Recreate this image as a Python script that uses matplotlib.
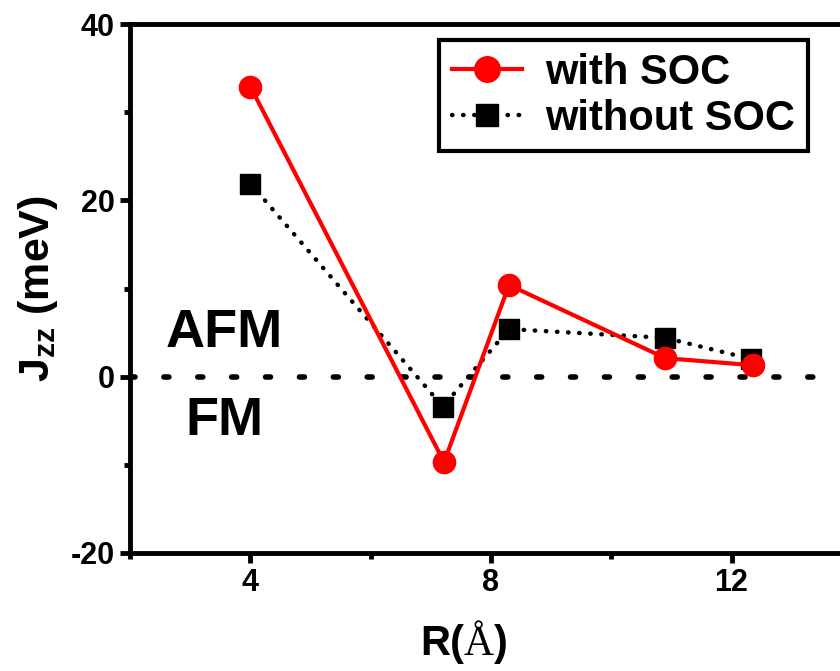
import matplotlib
matplotlib.use("Agg")
import matplotlib.pyplot as plt
from matplotlib.offsetbox import TextArea, HPacker, AnchoredOffsetbox

plt.rcParams['font.family'] = ['Liberation Sans', 'DejaVu Sans']
plt.rcParams['font.weight'] = 'bold'
plt.rcParams['mathtext.fontset'] = 'custom'
plt.rcParams['mathtext.bf'] = 'Liberation Sans:bold'
plt.rcParams['mathtext.rm'] = 'Liberation Sans:bold'
plt.rcParams['axes.unicode_minus'] = False

# distances R (Angstrom) and exchange Jzz (meV)
r_soc = [4.0, 7.22, 8.3, 10.9, 12.35]
j_soc = [32.9, -9.7, 10.4, 2.1, 1.3]
r_nosoc = [4.0, 7.2, 8.3, 10.9, 12.33]
j_nosoc = [21.9, -3.4, 5.4, 4.4, 2.0]

labels = ['with SOC', 'without SOC']

fig = plt.figure(figsize=(8.4, 6.71), dpi=100)
ax = fig.add_axes([0.155, 0.176, 0.859, 0.788])

ax.axhline(0, color='black', lw=4, ls=(0, (0.9, 5.2)), dash_capstyle='round', zorder=1)

ax.plot(r_soc, j_soc, color='red', lw=3, marker='o', ms=16,
        label=labels[0], zorder=3)
ax.plot(r_nosoc, j_nosoc, color='black', lw=3.2, ls=(0, (0.1, 2.4)),
        dash_capstyle='round', marker='s', ms=14, label=labels[1], zorder=2)

ax.text(3.57, 5.0, 'AFM', fontsize=39, fontweight='bold', ha='center', va='center')
ax.text(3.57, -5.0, 'FM', fontsize=39, fontweight='bold', ha='center', va='center')

ax.set_xlim(2, 14)
ax.set_ylim(-20, 40)
ax.set_xticks([4, 8, 12])
ax.set_xticks([2, 6, 10, 14], minor=True)
ax.set_yticks([-20, 0, 20, 40])
ax.set_yticks([-10, 10, 30], minor=True)
ax.tick_params(which='major', direction='out', length=7, width=3.5, labelsize=22, pad=4)
ax.tick_params(which='minor', direction='out', length=4.5, width=3.5)
for lab in ax.get_xticklabels() + ax.get_yticklabels():
    lab.set_fontweight('bold')
for sp in ax.spines.values():
    sp.set_linewidth(3.5)

ax.set_ylabel(r'$\mathbf{J_{zz}}$ (meV)', fontsize=31, fontweight='bold', labelpad=8)

# x label: "R(" and ")" bold sans, the angstrom sign in a plain serif face
xl_parts = [TextArea('R(', textprops=dict(fontsize=30, fontweight='bold')),
            TextArea('\u00c5', textprops=dict(fontsize=30, fontweight='normal',
                                              family='Liberation Serif')),
            TextArea(')', textprops=dict(fontsize=30, fontweight='bold'))]
xl_box = HPacker(children=xl_parts, align='baseline', pad=0, sep=0)
xl = AnchoredOffsetbox(loc='center', child=xl_box, pad=0, borderpad=0, frameon=False,
                       bbox_to_anchor=(0.552, 0.040), bbox_transform=fig.transFigure)
fig.add_artist(xl)

leg = ax.legend(loc='upper right', bbox_to_anchor=(0.939, 0.970), borderaxespad=0,
                fontsize=30, handlelength=1.7, fancybox=False, framealpha=1,
                edgecolor='black', borderpad=0.3, labelspacing=0.15, handletextpad=0.55,
                markerscale=1.15)
leg.get_frame().set_linewidth(3)
for t in leg.get_texts():
    t.set_fontweight('bold')

fig.savefig('out.png', dpi=100)
